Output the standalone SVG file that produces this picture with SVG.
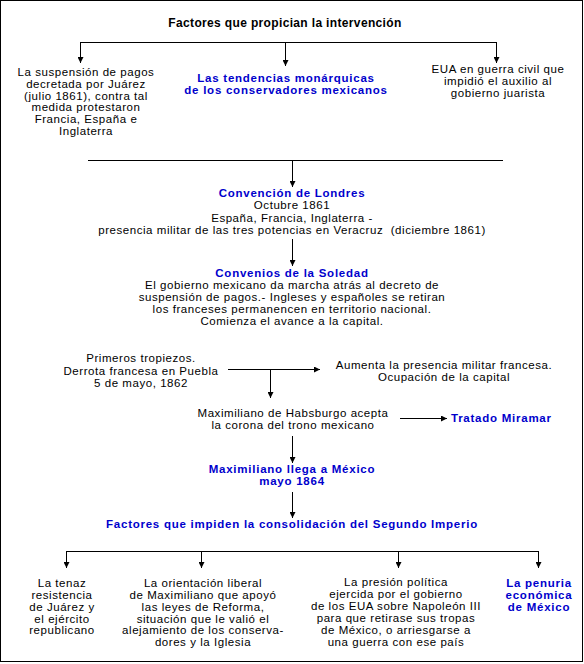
<svg xmlns="http://www.w3.org/2000/svg" width="584" height="664" viewBox="0 0 584 664">
<defs>
<style>
text{font-family:"Liberation Sans",Arial,sans-serif;font-size:11.5px;letter-spacing:0.55px;fill:#000;text-anchor:middle}
.b{font-weight:bold;font-size:12px;letter-spacing:0.35px}
.blue{fill:#0000CC;font-weight:bold;font-size:11.5px;letter-spacing:0.75px}
.st{text-anchor:start}
line{stroke:#000;stroke-width:1}
.a{marker-end:url(#ah)}
</style>
<marker id="ah" viewBox="0 0 6 6" refX="6" refY="3" markerWidth="6" markerHeight="6" markerUnits="userSpaceOnUse" orient="auto">
<path d="M0,0 L6,3 L0,6 z" fill="#000"/>
</marker>
</defs>
<rect x="0" y="0" width="584" height="664" fill="#fff"/>
<rect x="0.5" y="0.5" width="582" height="661" fill="none" stroke="#000"/>
<g id="connectors">
<line x1="80" y1="42.5" x2="496" y2="42.5"/>
<line class="a" x1="80.5" y1="42" x2="80.5" y2="63"/>
<line class="a" x1="285.5" y1="42" x2="285.5" y2="66"/>
<line class="a" x1="496.5" y1="42" x2="496.5" y2="63"/>
<line x1="88" y1="160.5" x2="503" y2="160.5"/>
<line class="a" x1="292.5" y1="160" x2="292.5" y2="187"/>
<line class="a" x1="292.5" y1="239" x2="292.5" y2="266"/>
<line class="a" x1="228" y1="369.5" x2="320" y2="369.5"/>
<line class="a" x1="270.5" y1="369" x2="270.5" y2="398"/>
<line class="a" x1="400" y1="418.5" x2="447" y2="418.5"/>
<line class="a" x1="292.5" y1="436" x2="292.5" y2="463"/>
<line class="a" x1="292.5" y1="492" x2="292.5" y2="518"/>
<line x1="66" y1="551.5" x2="539" y2="551.5"/>
<line class="a" x1="66.5" y1="551" x2="66.5" y2="568"/>
<line class="a" x1="201.5" y1="551" x2="201.5" y2="568"/>
<line class="a" x1="398.5" y1="551" x2="398.5" y2="568"/>
<line class="a" x1="538.5" y1="551" x2="538.5" y2="568"/>
</g>
<g id="title"><text class="b" x="285" y="27">Factores que propician la intervención</text></g>
<g id="n-suspension">
<text x="86" y="76">La suspensión de pagos</text>
<text x="86" y="88">decretada por Juárez</text>
<text x="86" y="100">(julio 1861), contra tal</text>
<text x="86" y="111">medida protestaron</text>
<text x="86" y="123">Francia, España e</text>
<text x="86" y="135">Inglaterra</text>
</g>
<g id="n-tendencias">
<text class="blue" x="286" y="82">Las tendencias monárquicas</text>
<text class="blue" x="286" y="94">de los conservadores mexicanos</text>
</g>
<g id="n-eua">
<text x="498" y="73">EUA en guerra civil que</text>
<text x="498" y="85">impidió el auxilio al</text>
<text x="498" y="97">gobierno juarista</text>
</g>
<g id="n-londres">
<text class="blue" x="292" y="197">Convención de Londres</text>
<text x="292" y="209">Octubre 1861</text>
<text x="292" y="222">España, Francia, Inglaterra -</text>
<text x="292" y="234">presencia militar de las tres potencias en Veracruz&#160; (diciembre 1861)</text>
</g>
<g id="n-soledad">
<text class="blue" x="292" y="277">Convenios de la Soledad</text>
<text x="292" y="289">El gobierno mexicano da marcha atrás al decreto de</text>
<text x="292" y="301">suspensión de pagos.- Ingleses y españoles se retiran</text>
<text x="292" y="313">los franceses permanencen en territorio nacional.</text>
<text x="292" y="325">Comienza el avance a la capital.</text>
</g>
<g id="n-tropiezos">
<text x="141" y="362">Primeros tropiezos.</text>
<text x="141" y="375">Derrota francesa en Puebla</text>
<text x="141" y="387">5 de mayo, 1862</text>
</g>
<g id="n-aumenta">
<text x="444" y="369">Aumenta la presencia militar francesa.</text>
<text x="444" y="381">Ocupación de la capital</text>
</g>
<g id="n-maximiliano">
<text x="293" y="417">Maximiliano de Habsburgo acepta</text>
<text x="293" y="429">la corona del trono mexicano</text>
</g>
<g id="n-miramar"><text class="blue st" x="451" y="422">Tratado Miramar</text></g>
<g id="n-llega">
<text class="blue" x="292" y="473">Maximiliano llega a México</text>
<text class="blue" x="292" y="485">mayo 1864</text>
</g>
<g id="n-impiden"><text class="blue" x="292" y="528">Factores que impiden la consolidación del Segundo Imperio</text></g>
<g id="n-tenaz">
<text x="62" y="587">La tenaz</text>
<text x="62" y="599">resistencia</text>
<text x="62" y="611">de Juárez y</text>
<text x="62" y="623">el ejército</text>
<text x="62" y="634">republicano</text>
</g>
<g id="n-orientacion">
<text x="203" y="587">La orientación liberal</text>
<text x="203" y="599">de Maximiliano que apoyó</text>
<text x="203" y="611">las leyes de Reforma,</text>
<text x="203" y="623">situación que le valió el</text>
<text x="203" y="634">alejamiento de los conserva-</text>
<text x="203" y="646">dores y la Iglesia</text>
</g>
<g id="n-presion">
<text x="396" y="586">La presión política</text>
<text x="396" y="598">ejercida por el gobierno</text>
<text x="396" y="610">de los EUA sobre Napoleón III</text>
<text x="396" y="622">para que retirase sus tropas</text>
<text x="396" y="634">de México, o arriesgarse a</text>
<text x="396" y="646">una guerra con ese país</text>
</g>
<g id="n-penuria">
<text class="blue" x="539" y="587">La penuria</text>
<text class="blue" x="539" y="599">económica</text>
<text class="blue" x="539" y="611">de México</text>
</g>
</svg>
